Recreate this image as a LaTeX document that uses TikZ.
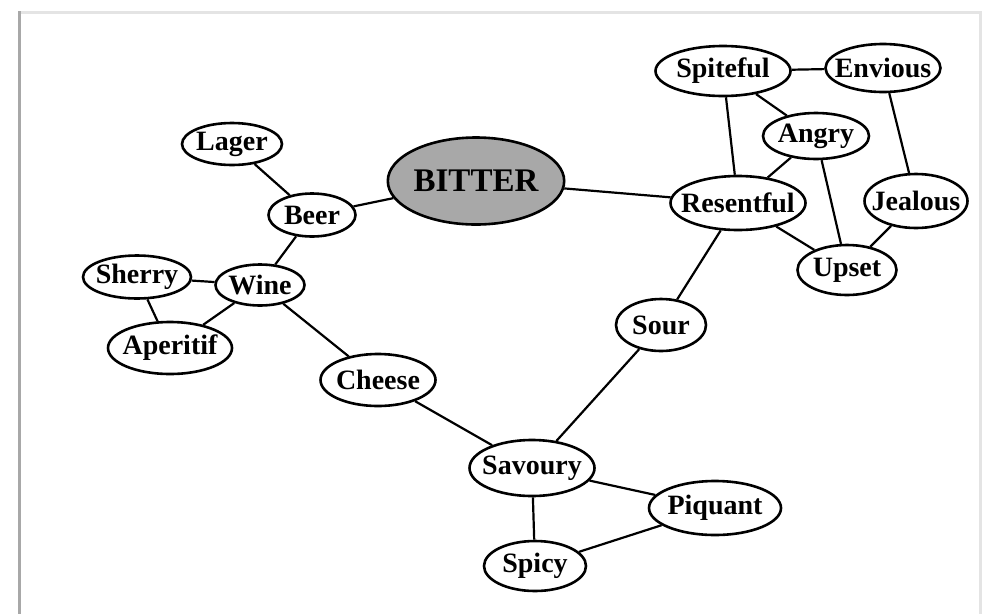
\documentclass[tikz,border=0pt]{standalone}
\usepackage{fontspec}
\setmainfont{Liberation Serif}
\usetikzlibrary{shapes.geometric}
\definecolor{framedark}{RGB}{168,168,168}
\definecolor{framelight}{RGB}{228,228,228}
\definecolor{bittergray}{RGB}{168,168,168}

\begin{document}
\begin{tikzpicture}[x=1pt,y=-1pt,line width=2.2pt,
    word/.style 2 args={ellipse,draw,line width=2.6pt,inner xsep=-10pt,inner ysep=0pt,
      minimum width=#1,minimum height=#2,font=\bfseries\fontsize{28}{30}\selectfont},
    hub/.style={ellipse,draw,line width=2.6pt,fill=bittergray,inner sep=0pt,
      minimum width=170,minimum height=87,font=\bfseries\fontsize{33}{36}\selectfont}]
        \useasboundingbox (0,0) rectangle (988,614);
        \fill[white] (0,0) rectangle (988,614);
        \draw[framelight,line width=3pt] (19.5,12.5) -- (980,12.5) -- (980,614);
        \draw[framedark,line width=3pt] (19.5,11) -- (19.5,614);
        \draw (476,181) node[hub] (bitter) {BITTER};
        \draw (232,144) node[word={100}{42}] (lager) {Lager};
        \draw (312,215) node[word={87}{43}] (beer) {Beer};
        \draw (137,277) node[word={108}{43}] (sherry) {Sherry};
        \draw (260,285) node[word={89}{41}] (wine) {Wine};
        \draw (170,348) node[word={124}{52}] (aperitif) {Aperitif};
        \draw (378,380) node[word={115}{52}] (cheese) {Cheese};
        \draw (532,468) node[word={125}{56}] (savoury) {Savoury};
        \draw (661,325) node[word={90}{52}] (sour) {Sour};
        \draw (715,508) node[word={132}{54}] (piquant) {Piquant};
        \draw (535,566) node[word={102}{50}] (spicy) {Spicy};
        \draw (738,203) node[word={135}{54}] (resentful) {Resentful};
        \draw (723,71)  node[word={135}{50}] (spiteful) {Spiteful};
        \draw (883,68)  node[word={115}{48}] (envious) {Envious};
        \draw (816,136) node[word={106}{46}] (angry) {Angry};
        \draw (916,201) node[word={103}{54}] (jealous) {Jealous};
        \draw (847,270) node[word={99}{50}] (upset) {Upset};
        \draw (lager) -- (beer)
              (beer) -- (bitter)
              (beer) -- (wine)
              (sherry) -- (wine)
              (sherry) -- (aperitif)
              (wine) -- (aperitif)
              (wine) -- (cheese)
              (cheese) -- (savoury)
              (savoury) -- (sour)
              (savoury) -- (piquant)
              (savoury) -- (spicy)
              (spicy) -- (piquant)
              (sour) -- (resentful)
              (bitter) -- (resentful)
              (resentful) -- (spiteful)
              (resentful) -- (angry)
              (resentful) -- (upset)
              (spiteful) -- (envious)
              (spiteful) -- (angry)
              (angry) -- (upset)
              (envious) -- (jealous)
              (jealous) -- (upset);
\end{tikzpicture}
\end{document}
